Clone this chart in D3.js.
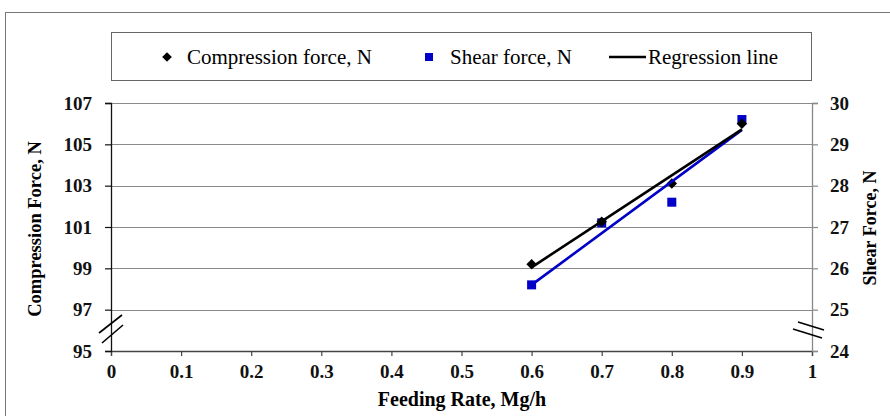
<!DOCTYPE html>
<html>
<head>
<meta charset="utf-8">
<script src="https://cdn.jsdelivr.net/npm/d3@7"></script>
<style>
  body { margin: 0; background: #fff; }
  svg { display: block; font-family: "Liberation Serif", "Times New Roman", serif; }
</style>
</head>
<body>
<div id="chart"></div>
<script>
// data
var feedRate = [0.6, 0.7, 0.8, 0.9];
var compression = [99.2, 101.25, 103.1, 106.0];
var shear = [25.6, 27.1, 27.6, 29.6];
var xTicks = [0, 0.1, 0.2, 0.3, 0.4, 0.5, 0.6, 0.7, 0.8, 0.9, 1];
var leftTicks = [95, 97, 99, 101, 103, 105, 107];
var rightTicks = [24, 25, 26, 27, 28, 29, 30];

var w = 890, h = 416;
var blue = "#0000c8";

var svg = d3.select("#chart").append("svg")
    .attr("width", w)
    .attr("height", h);

// scales
var x = d3.scaleLinear().domain([0, 1]).range([111, 812]);
var yL = d3.scaleLinear().domain([95, 107]).range([351, 103]);
var yR = d3.scaleLinear().domain([24, 30]).range([351, 103]);

// outer frame
svg.append("rect")
    .attr("x", 5.5).attr("y", 12.5)
    .attr("width", 900).attr("height", 430)
    .attr("fill", "none").attr("stroke", "#777").attr("stroke-width", 1);

// gridlines
svg.append("g")
    .selectAll("line")
    .data(leftTicks.slice(1))
    .join("line")
    .attr("x1", x(0)).attr("x2", x(1))
    .attr("y1", d => Math.round(yL(d)) + 0.5)
    .attr("y2", d => Math.round(yL(d)) + 0.5)
    .attr("stroke", "#8a8a8a")
    .attr("stroke-width", 1.2);

// axes
var xAxis = d3.axisBottom(x).tickValues(xTicks).tickFormat(d3.format("")).tickSize(5).tickPadding(9);
var leftAxis = d3.axisLeft(yL).tickValues(leftTicks).tickFormat(d3.format("d")).tickSize(6).tickPadding(13);
var rightAxis = d3.axisRight(yR).tickValues(rightTicks).tickFormat(d3.format("d")).tickSize(6).tickPadding(12);

function styleAxis(g, col) {
    g.attr("font-family", null);
    g.select(".domain").attr("stroke", col).attr("stroke-width", 1.3);
    g.selectAll(".tick line").attr("stroke", col).attr("stroke-width", 1.2);
    g.selectAll(".tick text")
        .attr("fill", "#111")
        .style("font-family", "'Liberation Serif', serif")
        .style("font-weight", "bold")
        .style("font-size", "19px");
}

svg.append("g")
    .attr("transform", "translate(0,351)")
    .call(xAxis)
    .call(g => styleAxis(g, "#444"));

svg.append("g")
    .attr("transform", "translate(111,0)")
    .call(leftAxis)
    .call(g => styleAxis(g, "#111"));

svg.append("g")
    .attr("transform", "translate(812,0)")
    .call(rightAxis)
    .call(g => styleAxis(g, "#888"));

// axis break marks
var breakL = [[[99, 333], [122, 315]], [[102, 343], [123, 325]]];
var breakR = [[[798, 322], [824, 330]], [[793, 329], [822, 338]]];
svg.append("g")
    .selectAll("line")
    .data(breakL.concat(breakR))
    .join("line")
    .attr("x1", d => d[0][0]).attr("y1", d => d[0][1])
    .attr("x2", d => d[1][0]).attr("y2", d => d[1][1])
    .attr("stroke", "#000").attr("stroke-width", 1.6);

// regression lines (least squares on the points)
function fit(xs, ys) {
    var mx = d3.mean(xs), my = d3.mean(ys);
    var sxy = d3.sum(xs, (v, i) => (v - mx) * (ys[i] - my));
    var sxx = d3.sum(xs, v => (v - mx) * (v - mx));
    var b = sxy / sxx;
    return function(v) { return my + b * (v - mx); };
}
var fitC = fit(feedRate, compression);
var fitS = fit(feedRate, shear);
var xEnds = d3.extent(feedRate);

// markers
svg.append("g")
    .selectAll("rect")
    .data(feedRate)
    .join("rect")
    .attr("x", (d) => x(d) - 4.5)
    .attr("y", (d, i) => yR(shear[i]) - 4.5)
    .attr("width", 9).attr("height", 9)
    .attr("fill", blue);

svg.append("g")
    .selectAll("path")
    .data(feedRate)
    .join("path")
    .attr("d", d3.symbol().type(d3.symbolDiamond2).size(70))
    .attr("transform", (d, i) => "translate(" + x(d) + "," + yL(compression[i]) + ")")
    .attr("fill", "#000");

var line = d3.line();
svg.append("path")
    .attr("d", line(xEnds.map(v => [x(v), yR(fitS(v))])))
    .attr("stroke", blue).attr("stroke-width", 2.6).attr("fill", "none");

svg.append("path")
    .attr("d", line(xEnds.map(v => [x(v), yL(fitC(v))])))
    .attr("stroke", "#000").attr("stroke-width", 2.6).attr("fill", "none");

// axis titles
svg.append("text")
    .attr("x", 462).attr("y", 406)
    .attr("text-anchor", "middle")
    .style("font-weight", "bold").style("font-size", "20px")
    .text("Feeding Rate, Mg/h");

svg.append("text")
    .attr("transform", "translate(41,229) rotate(-90)")
    .attr("text-anchor", "middle")
    .style("font-weight", "bold").style("font-size", "18.5px")
    .text("Compression Force, N");

svg.append("text")
    .attr("transform", "translate(876,228) rotate(-90)")
    .attr("text-anchor", "middle")
    .style("font-weight", "bold").style("font-size", "18px")
    .text("Shear Force, N");

// legend
var legend = svg.append("g");
legend.append("rect")
    .attr("x", 111.5).attr("y", 32.5)
    .attr("width", 700).attr("height", 48)
    .attr("fill", "#fff").attr("stroke", "#666").attr("stroke-width", 1);

legend.append("path")
    .attr("d", d3.symbol().type(d3.symbolDiamond2).size(60))
    .attr("transform", "translate(167,57)")
    .attr("fill", "#000");
legend.append("text").attr("x", 187).attr("y", 64)
    .style("font-size", "21px").text("Compression force, N");

legend.append("rect")
    .attr("x", 425).attr("y", 53).attr("width", 8).attr("height", 8)
    .attr("fill", blue);
legend.append("text").attr("x", 450).attr("y", 64)
    .style("font-size", "21px").text("Shear force, N");

legend.append("line")
    .attr("x1", 609).attr("x2", 646).attr("y1", 57).attr("y2", 57)
    .attr("stroke", "#000").attr("stroke-width", 2.6);
legend.append("text").attr("x", 648).attr("y", 64)
    .style("font-size", "21px").text("Regression line");
</script>
</body>
</html>
